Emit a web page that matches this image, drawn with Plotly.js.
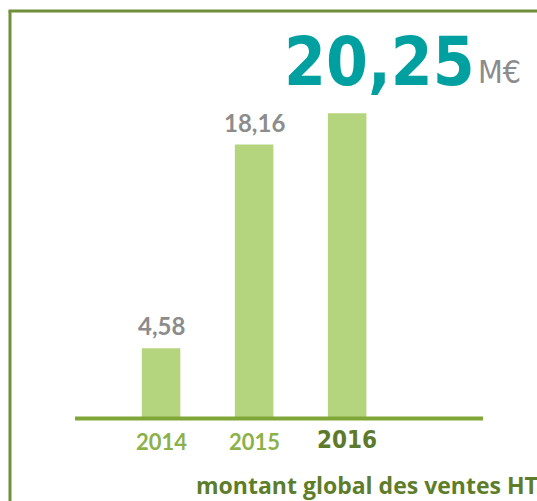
<!DOCTYPE html>
<html><head><meta charset="utf-8">
<script src="https://cdn.plot.ly/plotly-3.0.1.min.js"></script>
<style>html,body{margin:0;padding:0;background:#fff;}#chart{width:537px;height:501px;}</style>
</head><body><div id="chart"></div>
<script>
const years = ["2014", "2015", "2016"];
const values = [4.58, 18.16, 20.25];
const valueLabels = ["4,58", "18,16", "20,25"];
const unitLabel = "M€";
const footer = "montant global des ventes HT";

const barColor = "#b5d47e";
const lineColor = "#7fa637";
const borderColor = "#6f8f3a";

const annotations = [];
for (let i = 0; i < years.length - 1; i++) {
  annotations.push({x: i, y: values[i], xref: 'x', yref: 'y', text: valueLabels[i],
    showarrow: false, yanchor: 'bottom', yshift: 6,
    font: {family: 'Lato, Open Sans, sans-serif', size: 24, color: '#8c8c8c', weight: 'bold'}});
}
const last = years.length - 1;
annotations.push({x: last, y: values[last], xref: 'x', yref: 'y', text: valueLabels[last],
  showarrow: false, yanchor: 'bottom', xanchor: 'center', xshift: 32, yshift: 10,
  font: {family: 'DejaVu Sans Condensed, DejaVu Sans, sans-serif', size: 67, color: '#00a0a0', weight: 'bold'}});
annotations.push({x: last, y: values[last], xref: 'x', yref: 'y', text: unitLabel,
  showarrow: false, yanchor: 'bottom', xanchor: 'left', xshift: 129, yshift: 20,
  font: {family: 'Liberation Sans Narrow, DejaVu Sans Condensed, sans-serif', size: 32, color: '#8c8c8c'}});
for (let i = 0; i < years.length; i++) {
  const isLast = i === last;
  annotations.push({x: i, y: 0, xref: 'x', yref: 'y', text: years[i], showarrow: false,
    yanchor: 'top', yshift: isLast ? -7 : -9,
    font: isLast ? {family: 'DejaVu Sans Condensed, DejaVu Sans, sans-serif', size: 24, color: '#5d7a2c', weight: 'bold'}
                 : {family: 'Lato, Open Sans, sans-serif', size: 22, color: '#8db14a', weight: 'bold'}});
}
annotations.push({x: 1, y: 0, xref: 'paper', yref: 'paper', xanchor: 'right', yanchor: 'bottom',
  text: footer, showarrow: false, xshift: 56, yshift: -85, borderpad: 0,
  font: {family: 'Open Sans, Lato, sans-serif', size: 23, color: '#5e7d2a', weight: 'bold'}});

const layout = {
  width: 537, height: 501,
  margin: {l: 75, r: 54, t: 0, b: 84},
  paper_bgcolor: '#ffffff', plot_bgcolor: '#ffffff',
  showlegend: false,
  xaxis: {type: 'category', range: [-0.925, 3.46], showticklabels: false, showgrid: false, zeroline: false, showline: false, ticks: ''},
  yaxis: {range: [0, 27.8], showticklabels: false, showgrid: false, zeroline: false, showline: false, ticks: ''},
  annotations: annotations,
  shapes: [
    {type: 'line', xref: 'paper', yref: 'paper', x0: 0, x1: 1, y0: -1.5/417, y1: -1.5/417, line: {color: lineColor, width: 4}},
    {type: 'line', xref: 'paper', yref: 'paper', x0: -65/408, x1: -65/408, y0: 1 - 11/417, y1: -100/417, line: {color: borderColor, width: 3}},
    {type: 'line', xref: 'paper', yref: 'paper', x0: -66.5/408, x1: 470/408, y0: 1 - 11/417, y1: 1 - 11/417, line: {color: borderColor, width: 3}}
  ]
};

Plotly.newPlot('chart', [{
  type: 'bar', x: years, y: values, width: 0.414,
  marker: {color: barColor}, hoverinfo: 'none'
}], layout, {displayModeBar: false, staticPlot: true});
</script></body></html>
